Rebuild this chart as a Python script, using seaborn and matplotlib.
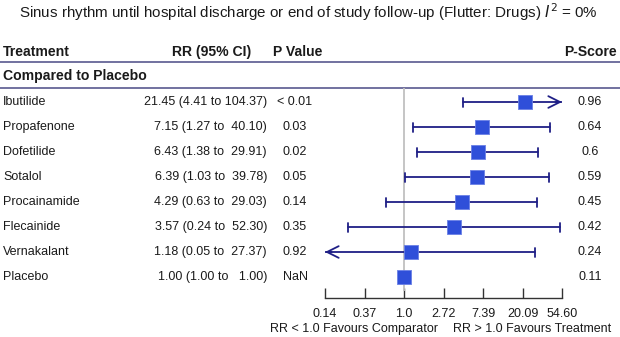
import numpy as np
import pandas as pd
import matplotlib
matplotlib.use("Agg")
import matplotlib.pyplot as plt
import seaborn as sns

sns.set_theme(style="white")
plt.rcParams['font.family'] = ['Liberation Sans', 'DejaVu Sans']

treatments = ["Ibutilide", "Propafenone", "Dofetilide", "Sotalol", "Procainamide",
              "Flecainide", "Vernakalant", "Placebo"]
rr = [21.45, 7.15, 6.43, 6.39, 4.29, 3.57, 1.18, 1.00]
lower = [4.41, 1.27, 1.38, 1.03, 0.63, 0.24, 0.05, 1.00]
upper = [104.37, 40.10, 29.91, 39.78, 29.03, 52.30, 27.37, 1.00]
pvals = ["< 0.01", "0.03", "0.02", "0.05", "0.14", "0.35", "0.92", "NaN"]
pscores = ["0.96", "0.64", "0.6", "0.59", "0.45", "0.42", "0.24", "0.11"]
tick_vals = [np.exp(k) for k in range(-2, 5)]
tick_labels = ["0.14", "0.37", "1.0", "2.72", "7.39", "20.09", "54.60"]

title = "Sinus rhythm until hospital discharge or end of study follow-up (Flutter: Drugs) $\\mathit{I}^2$ = 0%"

W, H = 620, 337
fig = plt.figure(figsize=(W / 100, H / 100), dpi=100)
fig.patch.set_facecolor("white")

# text / layout axes in pixel coordinates
tx = fig.add_axes([0, 0, 1, 1])
tx.set_xlim(0, W)
tx.set_ylim(H, 0)
tx.axis("off")

txt_color = "#1a1a1a"
rule_color = "#4a4a85"
fs_row = 9.0
fs_head = 10.1

tx.text(308.5, 12, title, ha="center", va="center", fontsize=10.9, color=txt_color)

tx.text(3, 52, "Treatment", ha="left", va="center", fontsize=fs_head, fontweight="bold", color=txt_color)
tx.text(251, 52, "RR (95% CI)", ha="right", va="center", fontsize=fs_head, fontweight="bold", color=txt_color)
tx.text(273, 52, "P Value", ha="left", va="center", fontsize=fs_head, fontweight="bold", color=txt_color)
tx.text(617, 52, "P-Score", ha="right", va="center", fontsize=fs_head, fontweight="bold", color=txt_color)
tx.plot([0, W], [62, 62], color=rule_color, lw=1.1)
tx.text(3, 76, "Compared to Placebo", ha="left", va="center", fontsize=fs_head, fontweight="bold", color=txt_color)
tx.plot([0, W], [88, 88], color=rule_color, lw=1.1)

for i, name in enumerate(treatments):
    y = 102 + 25 * i
    tx.text(3, y, name, ha="left", va="center", fontsize=fs_row, color=txt_color)
    s = f"{rr[i]:.2f} ({lower[i]:.2f} to {upper[i]:>6.2f})"
    tx.text(267, y, s, ha="right", va="center", fontsize=fs_row, color=txt_color)
    tx.text(295, y, pvals[i], ha="center", va="center", fontsize=fs_row, color=txt_color)
    tx.text(590, y, pscores[i], ha="center", va="center", fontsize=fs_row, color=txt_color)

tx.text(438, 329, "RR < 1.0 Favours Comparator", ha="right", va="center", fontsize=fs_row, color=txt_color)
tx.text(453, 329, "RR > 1.0 Favours Treatment", ha="left", va="center", fontsize=fs_row, color=txt_color)

# forest axes
x0, x1 = 325, 562
ytop, ybot = 88, 298
ax = fig.add_axes([x0 / W, 1 - ybot / H, (x1 - x0) / W, (ybot - ytop) / H])
ax.patch.set_alpha(0)
ax.set_xscale("log")
xmin, xmax = tick_vals[0], tick_vals[-1]
ax.set_xlim(xmin, xmax)
ax.set_ylim((ybot - 102) / 25, (ytop - 102) / 25)

ax.vlines(1.0, (ytop - 102) / 25, 7.55, color="#c0c0c0", lw=1.3, zorder=1)

line_color = "#1f1f86"
for i in range(len(treatments)):
    lo, hi = lower[i], upper[i]
    lo_c, hi_c = max(lo, xmin), min(hi, xmax)
    if hi_c > lo_c:
        ax.plot([lo_c, hi_c], [i, i], color=line_color, lw=1.3, zorder=2)
    for c, clipped in ((lo_c, lo < xmin), (hi_c, hi > xmax)):
        if lo == hi:
            continue
        if clipped:
            ax.annotate("", xy=(c, i), xytext=(c * (0.85 if c > 1 else 1.18), i),
                        arrowprops=dict(arrowstyle="->,head_length=0.7,head_width=0.35",
                                        color=line_color, lw=1.3, shrinkA=0, shrinkB=0),
                        zorder=2)
        else:
            ax.plot([c, c], [i - 0.18, i + 0.18], color=line_color, lw=1.3, zorder=2)

df = pd.DataFrame({"rr": rr, "row": list(range(len(treatments)))})
sns.scatterplot(data=df, x="rr", y="row", marker="s", s=92, color="#2f4fd9",
                edgecolor="#6a80e6", linewidth=0.6, ax=ax, zorder=3, legend=False)

ax.set_xlabel("")
ax.set_ylabel("")
ax.set_yticks([])
ax.set_xticks(tick_vals)
ax.set_xticklabels(tick_labels)
ax.minorticks_off()
ax.tick_params(axis="x", direction="in", length=7, width=1, color="#333333",
               labelsize=fs_row, labelcolor=txt_color, pad=7.5, bottom=True)
for sp in ["top", "left", "right"]:
    ax.spines[sp].set_visible(False)
ax.spines["bottom"].set_color("#333333")
ax.spines["bottom"].set_linewidth(1)

fig.savefig("out.png", dpi=100, facecolor="white")
